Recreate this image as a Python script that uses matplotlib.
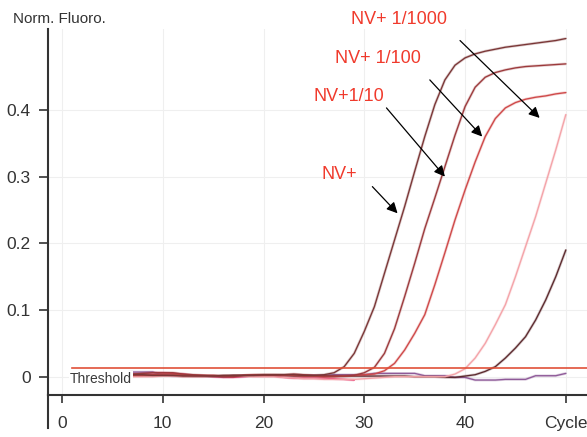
import numpy as np
import matplotlib
matplotlib.use('Agg')
import matplotlib.pyplot as plt
from matplotlib.lines import Line2D

# amplification run, normalised fluorescence per cycle
cycles = list(range(1, 51))

nv_pos = [0.004, 0.003, 0.003, 0.002, 0.002, 0.002, 0.003, 0.003, 0.002, 0.002,
          0.002, 0.001, 0.001, 0.001, 0.001, 0.002, 0.002, 0.002, 0.002, 0.003,
          0.003, 0.003, 0.003, 0.002, 0.002, 0.003, 0.006, 0.015, 0.035, 0.068,
          0.105, 0.155, 0.205, 0.255, 0.308, 0.360, 0.408, 0.445, 0.467, 0.478,
          0.484, 0.488, 0.491, 0.494, 0.496, 0.498, 0.500, 0.502, 0.504, 0.507]

nv_10 = [0.004, 0.004, 0.003, 0.003, 0.003, 0.003, 0.004, 0.005, 0.006, 0.006,
         0.006, 0.004, 0.003, 0.002, 0.001, 0.000, 0.000, 0.002, 0.0025, 0.0025,
         0.0025, 0.003, 0.004, 0.003, 0.002, 0.001, 0.001, 0.001, 0.002, 0.006,
         0.014, 0.035, 0.072, 0.120, 0.170, 0.222, 0.268, 0.315, 0.362, 0.405,
         0.434, 0.449, 0.456, 0.460, 0.463, 0.465, 0.466, 0.467, 0.468, 0.469]

nv_100 = [0.003, 0.003, 0.004, 0.004, 0.003, 0.003, 0.002, 0.002, 0.003, 0.004,
          0.004, 0.003, 0.002, 0.002, 0.002, 0.001, 0.001, 0.002, 0.003, 0.003,
          0.003, 0.002, 0.002, 0.001, 0.001, 0.000, 0.000, 0.001, 0.002, 0.003,
          0.004, 0.009, 0.020, 0.040, 0.065, 0.093, 0.138, 0.186, 0.235, 0.280,
          0.322, 0.360, 0.387, 0.403, 0.411, 0.416, 0.419, 0.421, 0.424, 0.426]

nv_1000 = [0.001, 0.001, 0.000, 0.000, 0.001, 0.001, 0.000, 0.000, 0.000, 0.001,
           0.001, 0.000, 0.000, 0.000, 0.001, 0.001, 0.001, 0.001, 0.000, 0.000,
           0.000, -0.001, -0.002, -0.003, -0.003, -0.004, -0.004, -0.004, -0.004, -0.003,
           -0.002, -0.001, 0.000, 0.000, 0.000, 0.000, 0.000, 0.000, 0.004, 0.012,
           0.028, 0.050, 0.078, 0.108, 0.150, 0.195, 0.240, 0.290, 0.340, 0.393]

late_pos = [0.003, 0.003, 0.002, 0.002, 0.002, 0.003, 0.003, 0.002, 0.002, 0.002,
            0.002, 0.002, 0.001, 0.001, 0.001, 0.001, 0.002, 0.002, 0.002, 0.002,
            0.002, 0.002, 0.001, 0.001, 0.001, 0.001, 0.001, 0.001, 0.001, 0.001,
            0.001, 0.001, 0.001, 0.001, 0.000, 0.000, 0.000, -0.001, -0.001, 0.001,
            0.003, 0.008, 0.015, 0.028, 0.043, 0.060, 0.085, 0.115, 0.150, 0.190]

neg_ctrl = [0.004, 0.004, 0.004, 0.005, 0.005, 0.006, 0.007, 0.007, 0.007, 0.003,
            0.001, 0.001, 0.001, 0.001, 0.001, 0.000, 0.001, 0.001, 0.002, 0.002,
            0.002, 0.002, 0.002, 0.002, 0.002, 0.002, 0.003, 0.003, 0.003, 0.003,
            0.005, 0.005, 0.005, 0.005, 0.005, 0.0015, 0.0015, 0.0015, -0.001, -0.001,
            -0.005, -0.005, -0.005, -0.004, -0.004, -0.004, 0.0015, 0.0015, 0.0015, 0.005]

ntc_cycles = list(range(1, 30))
ntc = [0.002, 0.002, 0.003, 0.003, 0.003, 0.004, 0.004, 0.005, 0.006, 0.006,
       0.005, 0.004, 0.002, 0.001, 0.000, -0.001, -0.001, 0.000, 0.001, 0.001,
       0.001, -0.001, -0.002, -0.002, -0.002, -0.002, -0.003, -0.004, -0.005]

threshold = 0.0135

series = [
    (ntc_cycles, ntc, '#e8346c'),
    (cycles, neg_ctrl, '#8e5a98'),
    (cycles, late_pos, '#5c2a2e'),
    (cycles, nv_1000, '#f4a3a8'),
    (cycles, nv_100, '#cf4848'),
    (cycles, nv_10, '#9c3a3c'),
    (cycles, nv_pos, '#7a3636'),
]

labels = ['NV+ 1/1000', 'NV+ 1/100', 'NV+1/10', 'NV+']

narrow = ['Liberation Sans Narrow', 'Liberation Sans', 'DejaVu Sans']
axis_grey = '#333333'

fig = plt.figure(figsize=(5.87, 4.37), dpi=100)
ax = fig.add_axes([48/587, 42/437, 539/587, 366/437])

for xs, ys, col in series:
    ax.plot(xs, ys, color=col, lw=2.0, alpha=0.25, solid_capstyle='butt')
    ax.plot(xs, ys, color=col, lw=0.95)

ax.plot([1, 53], [threshold, threshold], color='#e05038', lw=1.2)
ax.text(0.8, -0.0035, 'Threshold', fontsize=10, family=narrow, color='#3a3a3a',
        va='center', ha='left',
        bbox=dict(facecolor='white', edgecolor='none', pad=1.0))

ax.set_xlim(-1.39, 52.1)
ax.set_ylim(-0.0274, 0.5213)

ax.set_xticks([0, 10, 20, 30, 40, 50])
ax.set_xticklabels(['0', '10', '20', '30', '40', 'Cycle'])
ax.set_yticks([0, 0.1, 0.2, 0.3, 0.4])
ax.set_yticklabels(['0', '0.1', '0.2', '0.3', '0.4'])
for lab in ax.get_xticklabels() + ax.get_yticklabels():
    lab.set_family(narrow)
    lab.set_fontsize(12.5)
    lab.set_color(axis_grey)

ax.tick_params(axis='x', length=6, width=1.2, color=axis_grey, pad=9)
ax.tick_params(axis='y', length=6.5, width=1.2, color=axis_grey, pad=6)
ax.grid(True, color='#efefef', lw=0.8)
ax.set_axisbelow(True)

ax.spines[['right', 'top']].set_visible(False)
for side in ['left', 'bottom']:
    ax.spines[side].set_color(axis_grey)
    ax.spines[side].set_linewidth(1.5)
# left axis line runs on below the cycle axis
ax.add_line(Line2D([0, 0], [0, -33/366], transform=ax.transAxes, color=axis_grey,
                   lw=1.5, clip_on=False))

fig.text(13/587, 1 - 19/437, 'Norm. Fluoro.', family=narrow, fontsize=11,
         color=axis_grey, va='center', ha='left')

# curve labels with arrows
text_pos = [(33.4, 0.535), (31.4, 0.477), (28.5, 0.420), (27.5, 0.303)]
arrows = [((39.5, 0.504), (47.4, 0.388)),
          ((36.5, 0.445), (41.7, 0.360)),
          ((32.2, 0.403), (38.0, 0.300)),
          ((30.8, 0.285), (33.3, 0.245))]
for lab, (tx, ty), (tail, head) in zip(labels, text_pos, arrows):
    ax.text(tx, ty, lab, fontsize=13, family='Liberation Sans', color='#f03a2c',
            ha='center', va='center', clip_on=False)
    ax.annotate('', xy=head, xytext=tail, annotation_clip=False,
                arrowprops=dict(arrowstyle='-|>', color='black', lw=0.9,
                                mutation_scale=16, shrinkA=0, shrinkB=0))

plt.savefig('out.png', dpi=100)
plt.close('all')
